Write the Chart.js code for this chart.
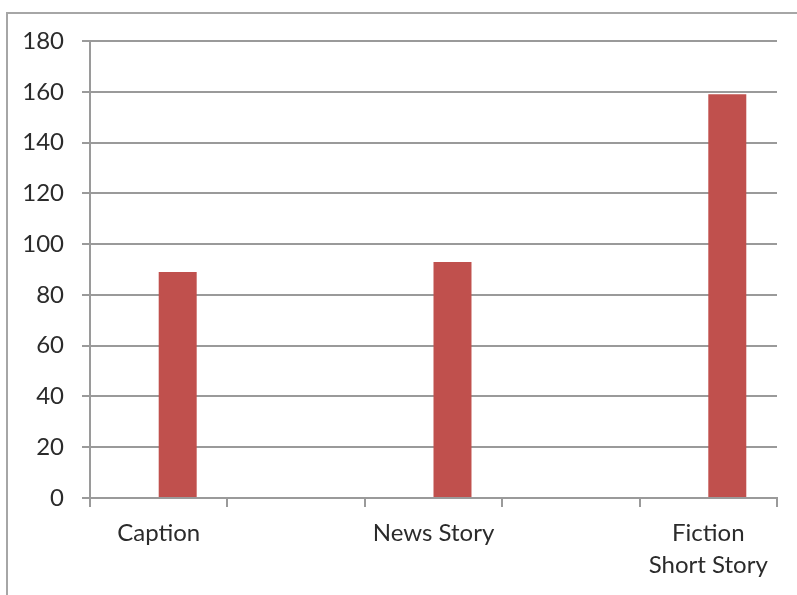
<!DOCTYPE html>
<html>
<head>
<meta charset="utf-8">
<script src="https://cdn.jsdelivr.net/npm/chart.js@4.4.1/dist/chart.umd.min.js"></script>
<style>
  html, body { margin: 0; padding: 0; background: #ffffff; }
  #wrap { position: relative; width: 797px; height: 595px; overflow: hidden; }
  #frame {
    position: absolute; left: 6px; top: 12px; width: 820px; height: 620px;
    border-left: 2px solid #a6a6a6; border-top: 2px solid #a6a6a6;
  }
  canvas { position: absolute; left: 0; top: 0; }
</style>
</head>
<body>
<div id="wrap">
  <div id="frame"></div>
  <canvas id="c" width="797" height="595"></canvas>
</div>
<script>
// Categories along the x axis (two unlabeled slots between the named ones)
const categories = ['Caption', '', 'News Story', '', ['Fiction', 'Short Story']];
// First series carries no values; second series holds the word counts
const emptySeries = [null, null, null, null, null];
const wordCounts = [89, null, 93, null, 159];
// Value axis ticks
const yMin = 0, yMax = 180, yStep = 20;

const gridGray = '#9a9a9a';
const textColor = '#2b2b2b';
const tickFont = { family: 'Lato, "Open Sans", sans-serif', size: 24, lineHeight: 1.3 };

new Chart(document.getElementById('c'), {
  type: 'bar',
  data: {
    labels: categories,
    datasets: [
      { label: 'Series 1', data: emptySeries, backgroundColor: '#4F81BD' },
      { label: 'Series 2', data: wordCounts, backgroundColor: '#C0504D', borderWidth: 0 }
    ]
  },
  options: {
    responsive: false,
    animation: false,
    categoryPercentage: 0.553,
    barPercentage: 1.0,
    layout: { padding: { left: 0, right: 20, top: 41, bottom: 0 } },
    plugins: { legend: { display: false }, tooltip: { enabled: false } },
    scales: {
      x: {
        grid: { drawOnChartArea: false, drawTicks: true, tickLength: 9,
                color: gridGray, lineWidth: 2 },
        border: { color: gridGray, width: 2 },
        ticks: { color: textColor, font: tickFont, padding: 11, maxRotation: 0, autoSkip: false },
        afterFit: s => { s.height = 97; }
      },
      y: {
        min: yMin, max: yMax,
        grid: { color: gridGray, lineWidth: 2, tickLength: 8 },
        border: { color: gridGray, width: 2 },
        ticks: { stepSize: yStep, color: textColor, font: tickFont, padding: 18 },
        afterFit: s => { s.width = 90; }
      }
    }
  }
});
</script>
</body>
</html>
